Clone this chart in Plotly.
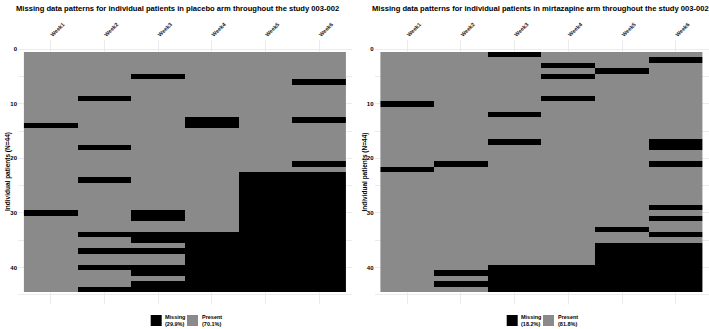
import plotly.graph_objects as go

W, H = 709, 329

weeks = ["Week1", "Week2", "Week3", "Week4", "Week5", "Week6"]
n_patients = 44
patients = list(range(1, n_patients + 1))

# Patient rows with missing data per week
placebo_missing = {
    "Week1": [14, 30],
    "Week2": [9, 18, 24, 34, 37, 40, 44],
    "Week3": [5, 30, 31, 34, 35, 37, 40, 41, 43, 44],
    "Week4": [13, 14, 34, 35, 36, 37, 38, 39, 40, 41, 42, 43, 44],
    "Week5": [23, 24, 25, 26, 27, 28, 29, 30, 31, 32, 33, 34, 35, 36, 37, 38,
              39, 40, 41, 42, 43, 44],
    "Week6": [6, 13, 21, 23, 24, 25, 26, 27, 28, 29, 30, 31, 32, 33, 34, 35,
              36, 37, 38, 39, 40, 41, 42, 43, 44],
}
mirtazapine_missing = {
    "Week1": [10, 22],
    "Week2": [21, 41, 43],
    "Week3": [1, 12, 17, 40, 41, 42, 43, 44],
    "Week4": [3, 5, 9, 40, 41, 42, 43, 44],
    "Week5": [4, 33, 36, 37, 38, 39, 40, 41, 42, 43, 44],
    "Week6": [2, 17, 18, 21, 29, 31, 34, 36, 37, 38, 39, 40, 41, 42, 43, 44],
}

titles = [
    "Missing data patterns for individual patients in placebo arm throughout the study 003-002",
    "Missing data patterns for individual patients in mirtazapine arm throughout the study 003-002",
]
y_title = "Individual patients (N=44)"
legend_labels = ["Missing", "Present"]

MISSING_COLOR = "#000000"
PRESENT_COLOR = "#8a8a8a"
GRID = "#ebebeb"
FONT = "Liberation Sans"


def matrix(missing):
    return [[1 if p in missing[w] else 0 for w in weeks] for p in patients]


def px_x(x):
    return x / W


def px_y(y):
    return 1 - y / H


fig = go.Figure()
arms = [placebo_missing, mirtazapine_missing]
x_domains = [[px_x(18), px_x(352)], [px_x(374.5), px_x(708.5)]]
y_domain = [px_y(304), px_y(40)]
title_centers = [177, 540]

for i, miss in enumerate(arms):
    sfx = "" if i == 0 else "2"
    fig.add_trace(go.Heatmap(
        x=weeks, y=patients, z=matrix(miss),
        zmin=0, zmax=1, showscale=False,
        colorscale=[[0, PRESENT_COLOR], [0.5, PRESENT_COLOR],
                    [0.5, MISSING_COLOR], [1, MISSING_COLOR]],
        xaxis="x" + sfx, yaxis="y" + sfx,
    ))
    fig.layout["xaxis" + sfx] = dict(
        domain=x_domains[i], anchor="y" + sfx, side="top",
        type="category", categoryorder="array", categoryarray=weeks,
        range=[-0.61, 5.61], tickangle=-45,
        tickfont=dict(family=FONT, size=5.5, color="#1a1a1a", weight="bold"),
        showgrid=True, gridcolor=GRID, gridwidth=1, zeroline=False,
        showline=False, ticks="", automargin=False, fixedrange=True,
    )
    fig.layout["yaxis" + sfx] = dict(
        domain=y_domain, anchor="x" + sfx,
        range=[46.7, -1.7], tickvals=[0, 10, 20, 30, 40],
        tickfont=dict(family=FONT, size=6, color="#000", weight="bold"),
        showgrid=True, gridcolor=GRID, gridwidth=1, zeroline=False,
        minor=dict(tickvals=[5, 15, 25, 35, 45], showgrid=True,
                   gridcolor=GRID, gridwidth=0.5),
        showline=False, ticks="", automargin=False, fixedrange=True,
    )

    total = n_patients * len(weeks)
    n_miss = sum(len(v) for v in miss.values())
    pct_m = 100 * n_miss / total
    pct_p = 100 - pct_m

    fig.add_annotation(
        text="<b>%s</b>" % titles[i], xref="paper", yref="paper",
        x=px_x(title_centers[i]), y=px_y(8), xanchor="center", yanchor="middle",
        showarrow=False, font=dict(family=FONT, size=7.6, color="#000"),
    )
    fig.add_annotation(
        text="<b>%s</b>" % y_title, xref="paper", yref="paper",
        x=px_x(8 + i * 356.5), y=(y_domain[0] + y_domain[1]) / 2, textangle=-90,
        xanchor="center", yanchor="middle", showarrow=False,
        font=dict(family=FONT, size=6.5, color="#000"),
    )

    # legend below each panel
    lx0 = 150.7 if i == 0 else 506.7
    keys = [(lx0, MISSING_COLOR, legend_labels[0], pct_m),
            (lx0 + 36.3, PRESENT_COLOR, legend_labels[1], pct_p)]
    for kx, col, lab, pct in keys:
        fig.add_shape(type="rect", xref="paper", yref="paper",
                      x0=px_x(kx), x1=px_x(kx + 11), y0=px_y(326), y1=px_y(315),
                      fillcolor=col, line=dict(width=0))
        fig.add_annotation(
            text="<b>%s<br>(%.1f%%)</b>" % (lab, pct), xref="paper", yref="paper",
            x=px_x(kx + 12.5), y=px_y(320.5), xanchor="left", yanchor="middle",
            align="left", showarrow=False,
            font=dict(family=FONT, size=5.5, color="#000"),
        )

fig.update_layout(
    width=W, height=H, margin=dict(l=0, r=0, t=0, b=0),
    paper_bgcolor="white", plot_bgcolor="white", showlegend=False,
)

fig.write_html(
    "out.html",
    config={"displayModeBar": False},
    post_script="document.body.style.margin='0';document.body.style.overflow='hidden';",
)
